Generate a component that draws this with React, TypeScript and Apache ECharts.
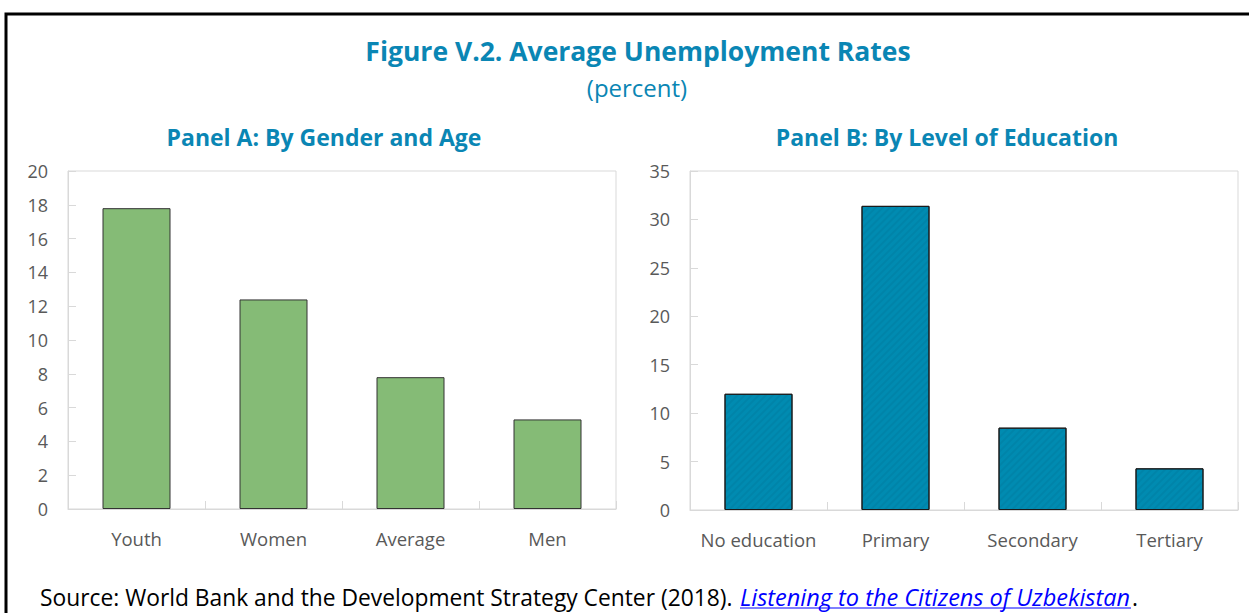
import React, { useEffect, useRef } from "react";
import * as echarts from "echarts";

const categoriesA = ["Youth", "Women", "Average", "Men"];
const valuesA = [17.8, 12.4, 7.8, 5.3];
const categoriesB = ["No education", "Primary", "Secondary", "Tertiary"];
const valuesB = [12.0, 31.4, 8.5, 4.3];

const titleText = "Figure V.2. Average Unemployment Rates";
const subtitleText = "(percent)";
const panelATitle = "Panel A: By Gender and Age";
const panelBTitle = "Panel B: By Level of Education";
const sourcePrefix = "Source: World Bank and the Development Strategy Center (2018).";
const sourceLink = "Listening to the Citizens of Uzbekistan";

const FONT = "'Open Sans', 'Noto Sans', sans-serif";
const BLUE = "#0a86b4";
const LABEL = "#595959";
const GRIDC = "#d9d9d9";

export default function App() {
  const ref = useRef<HTMLDivElement>(null);
  useEffect(() => {
    document.body.style.margin = "0";
    const chart = echarts.init(ref.current!, undefined, { renderer: "svg" });
    const yAxisCommon = {
      type: "value",
      min: 0,
      axisLine: { show: true, lineStyle: { color: GRIDC } },
      axisTick: { show: true, inside: true, length: 8, lineStyle: { color: GRIDC } },
      splitLine: { show: false },
      axisLabel: { color: LABEL, fontSize: 18, fontFamily: FONT, margin: 20 },
    };
    const xAxisCommon = {
      type: "category",
      axisLine: { show: true, lineStyle: { color: GRIDC } },
      axisTick: { show: true, inside: true, length: 8, lineStyle: { color: GRIDC } },
      axisLabel: { color: LABEL, fontSize: 18.5, fontFamily: FONT, margin: 20, interval: 0 },
    };
    chart.setOption({
      animation: false,
      backgroundColor: "#ffffff",
      title: [
        {
          text: titleText,
          left: 633,
          top: 32,
          textAlign: "center",
          textStyle: { color: BLUE, fontSize: 26.5, fontWeight: "bold", fontFamily: FONT },
        },
        {
          text: subtitleText,
          left: 632,
          top: 70,
          textAlign: "center",
          textStyle: { color: BLUE, fontSize: 24, fontWeight: "normal", fontFamily: FONT },
        },
        {
          text: panelATitle,
          left: 319,
          top: 120,
          textAlign: "center",
          textStyle: { color: BLUE, fontSize: 23, fontWeight: "bold", fontFamily: FONT },
        },
        {
          text: panelBTitle,
          left: 942,
          top: 120,
          textAlign: "center",
          textStyle: { color: BLUE, fontSize: 23, fontWeight: "bold", fontFamily: FONT },
        },
      ],
      grid: [
        { left: 68, right: 633, top: 171, bottom: 104, show: true, borderColor: GRIDC, borderWidth: 1 },
        { left: 690, right: 11, top: 171, bottom: 103, show: true, borderColor: GRIDC, borderWidth: 1 },
      ],
      xAxis: [
        { ...xAxisCommon, gridIndex: 0, data: categoriesA },
        { ...xAxisCommon, gridIndex: 1, data: categoriesB },
      ],
      yAxis: [
        { ...yAxisCommon, gridIndex: 0, max: 20, interval: 2 },
        { ...yAxisCommon, gridIndex: 1, max: 35, interval: 5 },
      ],
      series: [
        {
          type: "bar",
          xAxisIndex: 0,
          yAxisIndex: 0,
          data: valuesA,
          barWidth: 68,
          itemStyle: { color: "#85bb76", borderColor: "#333333", borderWidth: 1 },
        },
        {
          type: "bar",
          xAxisIndex: 1,
          yAxisIndex: 1,
          data: valuesB,
          barWidth: 68,
          itemStyle: {
            color: "#008bb1",
            borderColor: "#1a1a1a",
            borderWidth: 1,
            decal: {
              symbol: "rect",
              color: "rgba(0,70,100,0.1)",
              dashArrayX: [1, 0],
              dashArrayY: [2, 3],
              rotation: -Math.PI / 4,
            },
          },
        },
      ],
      graphic: [
        {
          type: "polyline",
          shape: { points: [[6, 613], [6, 14], [1249, 14]] },
          style: { stroke: "#000000", lineWidth: 3, fill: "none" },
        },
        {
          type: "text",
          x: 40,
          y: 597,
          style: {
            text: sourcePrefix,
            fontSize: 22.8,
            fontFamily: FONT,
            fill: "#000000",
            verticalAlign: "middle",
          },
        },
        {
          type: "text",
          x: 740,
          y: 597,
          style: {
            text: sourceLink,
            fontSize: 23.5,
            fontStyle: "italic",
            fontFamily: FONT,
            fill: "#0000ff",
            verticalAlign: "middle",
          },
        },
        {
          type: "text",
          x: 1132,
          y: 597,
          style: {
            text: ".",
            fontSize: 22.8,
            fontFamily: FONT,
            fill: "#000000",
            verticalAlign: "middle",
          },
        },
        {
          type: "line",
          shape: { x1: 740, y1: 608, x2: 1131, y2: 608 },
          style: { stroke: "#0000ff", lineWidth: 1 },
        },
      ],
    });
    return () => chart.dispose();
  }, []);
  return <div ref={ref} style={{ width: 1249, height: 613 }} />;
}
